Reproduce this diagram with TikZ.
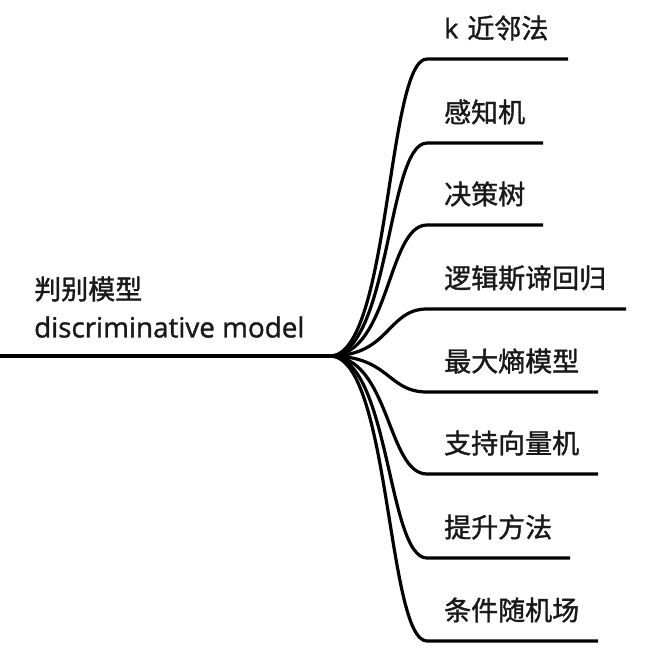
\documentclass[tikz,border=0pt]{standalone}
\usepackage{fontspec}
\usetikzlibrary{calc}
\setmainfont{Noto Sans CJK SC}[FakeBold=1.3]
\newfontfamily\latfont{Open Sans}[FakeBold=1.2]
\begin{document}
\begin{tikzpicture}[x=1pt,y=-1pt,
  lbl/.style={anchor=west,inner sep=0pt,font=\fontsize{27}{30}\selectfont,text=black!90},
  link/.style={line width=3.2pt,line join=round}]
\useasboundingbox (0,0) rectangle (652,662);
% root
\node[lbl] (rootcn) at (34,289) {判别模型};
\node[lbl,font=\latfont\fontsize{27.8}{30}\selectfont] (rooten) at (34,327) {discriminative model};
\coordinate (start) at (0,356);
\coordinate (hub) at (330,356);
\draw[link] (start) -- (hub);
% branches
\foreach \n/\ty/\ly/\xe/\t in {
  b1/28/59/568/{{\latfont k}\hspace{9pt}近邻法},
  b2/112/143/543/感知机,
  b3/194/225/543/决策树,
  b4/278/309/626/逻辑斯谛回归,
  b5/361/392/598/最大熵模型,
  b6/443/474/598/支持向量机,
  b7/527/558/570/提升方法,
  b8/610/641/598/条件随机场}{
  \node[lbl] (\n) at (444,\ty) {\t};
  \coordinate (\n k) at (427,\ly);
  \coordinate (\n e) at (\xe,\ly);
  \draw[link] (hub) .. controls ($(hub)+(60,0)$) and ($(\n k)+(-40,0)$) .. (\n k) -- (\n e);
}
\end{tikzpicture}
\end{document}
